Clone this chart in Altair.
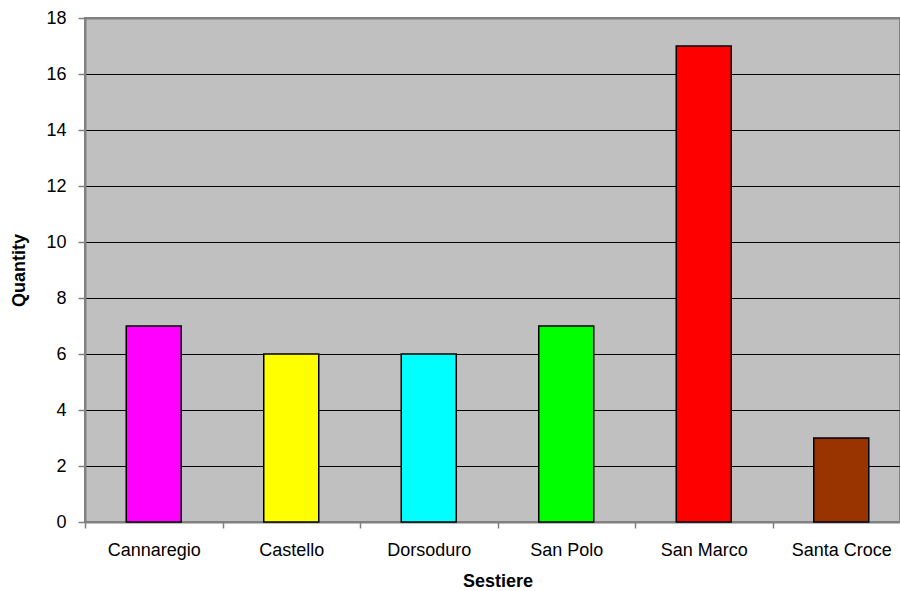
import altair as alt
import pandas as pd

# Number of sites per sestiere
sestieri = ["Cannaregio", "Castello", "Dorsoduro", "San Polo", "San Marco", "Santa Croce"]
quantities = [7, 6, 6, 7, 17, 3]
colors = ["#FF00FF", "#FFFF00", "#00FFFF", "#00FF00", "#FF0000", "#993300"]

df = pd.DataFrame({"Sestiere": sestieri, "Quantity": quantities})

font = "Liberation Sans"
band_step = 825 / 6  # width of one category slot

chart = (
    alt.Chart(df)
    .mark_bar(stroke="black", strokeWidth=1.5)
    .encode(
        x=alt.X(
            "Sestiere:N",
            sort=sestieri,
            scale=alt.Scale(range=[0, 825], paddingInner=0.6, paddingOuter=0.3),
            axis=alt.Axis(
                title="Sestiere",
                labelAngle=0,
                labelFontSize=18,
                labelColor="black",
                labelPadding=13,
                # ticks sit on the boundaries between categories
                tickOffset=-band_step / 2,
                labelOffset=band_step / 2,
                tickColor="#808080",
                tickSize=6,
                tickWidth=1.5,
                domainColor="#808080",
                domainWidth=2,
                titleFontSize=18,
                titleFontWeight="bold",
                titlePadding=13,
                titleColor="black",
            ),
        ),
        y=alt.Y(
            "Quantity:Q",
            scale=alt.Scale(domain=[0, 18], nice=False),
            axis=alt.Axis(
                title="Quantity",
                values=list(range(0, 19, 2)),
                labelFontSize=18,
                labelColor="black",
                labelPadding=12,
                tickColor="#808080",
                tickSize=7,
                tickWidth=1.5,
                domainColor="#808080",
                domainWidth=2,
                grid=True,
                gridColor=alt.ExprRef(expr="datum.value == 18 ? '#808080' : 'black'"),
                gridWidth=alt.ExprRef(expr="datum.value == 18 ? 2 : 1"),
                gridOpacity=1,
                titleFontSize=18,
                titleFontWeight="bold",
                titlePadding=17,
                titleColor="black",
            ),
        ),
        color=alt.Color(
            "Sestiere:N",
            sort=sestieri,
            scale=alt.Scale(domain=sestieri, range=colors),
            legend=None,
        ),
    )
    .properties(
        width=815,
        height=504,
        autosize=alt.AutoSizeParams(type="none"),
        padding={"left": 85, "top": 18, "right": 0, "bottom": 69},
    )
    .configure(font=font)
    .configure_view(fill="#C0C0C0", stroke="#808080", strokeWidth=2)
)

chart.save("out.html", embed_options={"renderer": "svg", "actions": False})
